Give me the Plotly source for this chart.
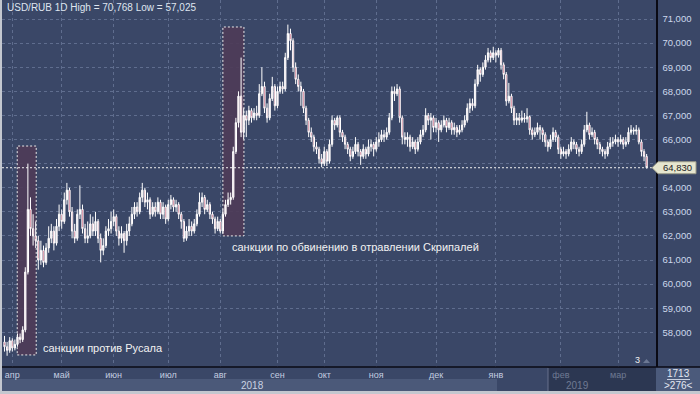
import plotly.graph_objects as go

# ---------------- data (USD/RUB daily candles) ----------------
opens = [57.60,57.40,57.25,57.65,57.35,57.50,57.80,57.70,58.10,60.50,
 63.10,62.30,62.00,61.80,61.00,61.40,60.90,61.50,61.90,62.20,
 61.70,62.40,62.90,62.60,63.50,63.90,63.00,62.20,61.90,62.90,
 63.10,62.30,61.90,62.00,62.50,62.20,62.60,61.90,61.40,61.60,
 62.20,62.30,62.60,62.80,62.20,61.90,62.10,61.80,62.20,62.50,
 62.90,63.20,63.00,63.60,63.90,63.40,63.50,62.90,63.20,63.00,
 63.40,62.90,63.20,62.70,63.30,63.50,63.20,63.30,62.90,62.60,
 61.90,62.20,62.40,62.20,62.50,62.90,63.40,63.60,63.10,63.30,
 62.90,62.70,62.30,62.60,62.20,62.90,63.30,63.50,63.60,65.50,
 66.70,67.80,66.30,67.00,66.80,67.20,66.90,67.10,67.00,67.90,
 68.20,67.30,66.90,67.70,68.20,67.40,68.00,68.20,68.10,69.40,
 70.40,70.10,69.00,68.50,68.20,68.00,67.30,66.80,66.30,66.10,
 65.70,65.60,65.20,65.00,65.50,65.10,65.80,66.80,66.60,66.90,
 66.30,66.10,65.80,65.60,65.30,65.50,65.80,65.50,65.30,65.60,
 65.40,65.70,65.80,65.60,65.90,66.00,66.20,66.10,66.30,66.90,
 68.00,67.90,68.10,66.90,66.10,66.00,66.10,65.70,65.90,65.60,
 65.90,66.20,66.40,67.00,66.80,66.90,66.50,66.70,66.40,66.60,
 66.80,66.50,66.70,66.40,66.50,66.30,66.40,66.60,66.80,67.30,
 67.50,67.40,68.30,68.90,68.70,69.00,69.30,69.60,69.40,69.60,
 69.50,69.70,69.10,68.70,67.60,67.80,67.30,66.80,66.90,66.80,
 66.90,66.85,66.95,66.40,66.20,66.30,66.50,66.40,66.20,65.90,
 65.70,66.00,66.30,66.10,65.60,65.40,65.50,65.40,65.60,65.90,
 65.80,65.60,65.50,65.80,66.40,66.60,66.20,66.30,66.00,65.80,
 65.60,65.50,65.40,65.70,65.85,65.90,66.00,65.90,66.00,65.80,
 65.90,66.30,66.40,66.35,66.40,65.90,65.50,65.30]

closes = [57.40,57.25,57.65,57.35,57.50,57.80,57.70,58.10,60.50,63.10,
 62.30,62.00,61.80,61.00,61.40,60.90,61.50,61.90,62.20,61.70,
 62.40,62.90,62.60,63.50,63.90,63.00,62.20,61.90,62.90,63.10,
 62.30,61.90,62.00,62.50,62.20,62.60,61.90,61.40,61.60,62.20,
 62.30,62.60,62.80,62.20,61.90,62.10,61.80,62.20,62.50,62.90,
 63.20,63.00,63.60,63.90,63.40,63.50,62.90,63.20,63.00,63.40,
 62.90,63.20,62.70,63.30,63.50,63.20,63.30,62.90,62.60,61.90,
 62.20,62.40,62.20,62.50,62.90,63.40,63.60,63.10,63.30,62.90,
 62.70,62.30,62.60,62.20,62.90,63.30,63.50,63.60,65.50,66.70,
 67.80,66.30,67.00,66.80,67.20,66.90,67.10,67.00,67.90,68.20,
 67.30,66.90,67.70,68.20,67.40,68.00,68.20,68.10,69.40,70.40,
 70.10,69.00,68.50,68.20,68.00,67.30,66.80,66.30,66.10,65.70,
 65.60,65.20,65.00,65.50,65.10,65.80,66.80,66.60,66.90,66.30,
 66.10,65.80,65.60,65.30,65.50,65.80,65.50,65.30,65.60,65.40,
 65.70,65.80,65.60,65.90,66.00,66.20,66.10,66.30,66.90,68.00,
 67.90,68.10,66.90,66.10,66.00,66.10,65.70,65.90,65.60,65.90,
 66.20,66.40,67.00,66.80,66.90,66.50,66.70,66.40,66.60,66.80,
 66.50,66.70,66.40,66.50,66.30,66.40,66.60,66.80,67.30,67.50,
 67.40,68.30,68.90,68.70,69.00,69.30,69.60,69.40,69.60,69.50,
 69.70,69.10,68.70,67.60,67.80,67.30,66.80,66.90,66.80,66.90,
 66.85,66.95,66.40,66.20,66.30,66.50,66.40,66.20,65.90,65.70,
 66.00,66.30,66.10,65.60,65.40,65.50,65.40,65.60,65.90,65.80,
 65.60,65.50,65.80,66.40,66.60,66.20,66.30,66.00,65.80,65.60,
 65.50,65.40,65.70,65.85,65.90,66.00,65.90,66.00,65.80,65.90,
 66.30,66.40,66.35,66.40,65.90,65.50,65.30,64.83]

highs = [57.85,57.60,57.80,57.75,57.70,57.95,57.95,58.25,60.70,65.00,
 63.60,62.90,62.60,62.00,61.80,61.60,61.70,62.40,62.50,62.40,
 62.70,63.30,63.10,63.80,64.20,64.00,63.20,62.50,63.10,64.10,
 63.30,62.50,62.60,62.90,62.80,63.00,62.70,62.10,61.90,62.40,
 62.70,63.00,63.10,62.90,62.40,62.40,62.20,62.50,62.80,63.20,
 63.40,63.40,63.80,64.20,64.00,63.80,63.60,63.40,63.40,63.60,
 63.50,63.40,63.30,63.50,63.70,63.60,63.50,63.40,63.00,62.70,
 62.40,62.70,62.60,62.70,63.10,63.80,63.80,63.70,63.50,63.40,
 63.00,62.80,62.80,62.70,63.10,63.50,63.80,63.80,65.70,66.90,
 68.00,69.40,67.30,67.20,67.40,67.30,67.30,67.40,68.30,69.00,
 68.40,67.50,67.90,68.60,68.30,68.20,68.40,68.40,69.60,70.77,
 70.60,70.20,69.20,68.70,68.40,68.10,67.40,66.90,66.50,66.20,
 65.90,65.70,65.40,65.70,65.60,66.00,67.00,66.90,67.00,67.00,
 66.40,66.20,65.90,65.70,65.70,66.10,65.90,65.60,65.80,65.70,
 66.00,66.00,65.90,66.10,66.30,66.40,66.40,66.50,67.10,68.20,
 68.20,68.30,68.20,67.00,66.30,66.30,66.20,66.10,66.00,66.10,
 66.40,66.60,67.30,67.10,67.10,67.00,66.90,66.80,66.80,67.00,
 66.90,66.90,66.80,66.70,66.60,66.60,66.80,67.00,67.50,67.70,
 67.70,68.50,69.10,69.00,69.20,69.50,69.80,69.70,69.85,69.70,
 69.80,69.80,69.20,68.80,68.35,67.90,67.40,67.10,67.10,67.20,
 67.10,67.30,67.00,66.50,66.50,66.70,66.60,66.50,66.30,66.00,
 66.20,66.50,66.40,66.20,65.70,65.70,65.60,65.80,66.10,66.00,
 65.90,65.70,66.00,66.60,67.15,66.70,66.50,66.40,66.10,65.90,
 65.70,65.60,65.90,66.10,66.10,66.20,66.10,66.20,66.10,66.10,
 66.50,66.60,66.50,66.60,66.50,66.00,65.60,65.40]

lows = [57.20,57.025,57.15,57.20,57.25,57.40,57.55,57.60,58.00,60.40,
 62.00,61.60,61.50,60.60,60.80,60.70,60.80,61.30,61.70,61.40,
 61.60,62.20,62.30,62.50,63.30,62.80,61.90,61.70,61.80,62.70,
 62.10,61.70,61.70,61.90,62.00,62.00,61.70,60.90,61.20,61.50,
 62.00,62.10,62.40,62.00,61.60,61.70,61.30,61.60,62.00,62.40,
 62.70,62.80,62.90,63.40,63.20,63.10,62.70,62.80,62.80,62.90,
 62.70,62.70,62.50,62.60,63.10,63.00,63.00,62.70,62.30,61.75,
 61.80,62.00,62.00,62.10,62.40,62.80,63.20,62.90,63.00,62.70,
 62.50,62.10,62.20,62.10,62.10,62.80,63.20,63.30,63.50,65.40,
 66.50,66.10,66.00,66.10,66.60,66.70,66.80,66.80,66.90,67.80,
 67.10,66.70,66.80,67.60,67.20,67.30,67.90,67.90,68.00,69.30,
 69.70,68.80,68.30,68.00,67.40,67.10,66.60,66.10,65.90,65.50,
 65.40,65.00,64.85,64.90,64.90,65.00,65.70,66.40,66.50,66.10,
 65.90,65.60,65.40,65.10,65.20,65.40,65.30,64.95,65.20,65.20,
 65.30,65.50,65.30,65.50,65.70,65.90,65.90,66.00,66.20,66.80,
 67.60,67.80,66.70,65.80,65.80,65.70,65.50,65.60,65.40,65.50,
 65.80,66.10,66.30,66.60,66.00,66.30,66.30,65.90,66.30,66.50,
 66.30,66.40,66.20,66.20,66.10,66.20,66.30,66.50,66.70,67.10,
 67.20,67.30,68.20,68.40,68.60,68.90,69.20,69.20,69.30,69.20,
 69.40,68.90,68.50,67.40,67.50,67.10,66.60,66.60,66.60,66.70,
 66.70,66.70,66.20,66.00,66.10,66.20,66.00,65.90,65.70,65.50,
 65.60,65.90,65.90,65.40,65.20,65.30,65.20,65.30,65.50,65.60,
 65.40,65.30,65.40,65.70,66.30,66.00,66.10,65.80,65.60,65.40,
 65.30,65.20,65.30,65.60,65.70,65.80,65.70,65.80,65.60,65.70,
 65.80,66.20,66.20,66.20,65.80,65.30,65.10,64.80]

candle_idx = list(range(len(closes)))

month_labels = ["апр", "май", "июн", "июл", "авг", "сен", "окт", "ноя", "дек", "янв", "фев", "мар"]
month_start_idx = [3, 22, 42, 63, 83, 105, 123, 143, 166, 189, 214, 236]
months_2019 = ["фев", "мар"]

price_ticks = [58, 59, 60, 61, 62, 63, 64, 65, 66, 67, 68, 69, 70, 71]
price_tick_labels = ["58,000", "59,000", "60,000", "61,000", "62,000", "63,000", "64,000", "",
                     "66,000", "67,000", "68,000", "69,000", "70,000", "71,000"]

title_text = "USD/RUB 1D High = 70,768 Low = 57,025"
last_price_label = "64,830"

event_texts = ["санкции против Русала", "санкции по обвинению в отравлении Скрипалей"]
event_idx_ranges = [(4.9, 12.2), (84.0, 92.1)]
event_price_ranges = [(57.06, 65.73), (62.0, 70.67)]

# ---------------- layout geometry ----------------
W, H = 700, 394
ML, MR, MT, MB = 2, 44, 0, 27
PW, PH = W - ML - MR, H - MT - MB


def fx(px):
    return (px - ML) / PW


def fy(py):
    return (H - MB - py) / PH


BG = "#3a4767"
GRID = "#5f6d8e"
FONT = "Liberation Sans"

fig = go.Figure()
fig.add_trace(go.Candlestick(
    x=candle_idx, open=opens, high=highs, low=lows, close=closes,
    increasing=dict(line=dict(color="#ffffff", width=1), fillcolor="#f3dfe5"),
    decreasing=dict(line=dict(color="#ffffff", width=1), fillcolor="#b31b42"),
    whiskerwidth=0, showlegend=False, hoverinfo="skip",
))

shapes = []
# background panels of the bottom axis strip
shapes.append(dict(type="rect", xref="paper", yref="paper", x0=fx(0), x1=fx(497), y0=fy(379), y1=fy(391),
                   fillcolor="#4b5979", line=dict(width=0), layer="below"))
shapes.append(dict(type="rect", xref="paper", yref="paper", x0=fx(548), x1=fx(656), y0=fy(367), y1=fy(391),
                   fillcolor="#2c3752", line=dict(width=0), layer="below"))
shapes.append(dict(type="line", xref="paper", yref="paper", x0=fx(548), x1=fx(548), y0=fy(368), y1=fy(391),
                   line=dict(color="#66718c", width=1), layer="below"))
shapes.append(dict(type="rect", xref="paper", yref="paper", x0=fx(656), x1=fx(700), y0=fy(367), y1=fy(391),
                   fillcolor="#4b5a7b", line=dict(width=0), layer="below"))
shapes.append(dict(type="line", xref="paper", yref="paper", x0=fx(667), x1=fx(690), y0=fy(379.5), y1=fy(379.5),
                   line=dict(color="#c8d0e0", width=1)))
# separator line under the chart
shapes.append(dict(type="line", xref="paper", yref="paper", x0=fx(0), x1=fx(700), y0=fy(367), y1=fy(367),
                   line=dict(color="#0a0a14", width=1.5)))
# window frame
shapes.append(dict(type="rect", xref="paper", yref="paper", x0=fx(0), x1=fx(2), y0=fy(0), y1=fy(394),
                   fillcolor="#c3c7cf", line=dict(width=0)))
shapes.append(dict(type="rect", xref="paper", yref="paper", x0=fx(0), x1=fx(700), y0=fy(391), y1=fy(394),
                   fillcolor="#c3c7cf", line=dict(width=0)))

# event rectangles
for (i0, i1), (p0, p1) in zip(event_idx_ranges, event_price_ranges):
    shapes.append(dict(type="rect", xref="x", yref="y", x0=i0, x1=i1, y0=p0, y1=p1,
                       fillcolor="rgba(78,60,88,0.92)", line=dict(color="#e8e8e8", width=1, dash="2px,2px"),
                       layer="between"))

# last price dotted line
last = closes[-1]
shapes.append(dict(type="line", xref="paper", yref="y", x0=0, x1=1, y0=last, y1=last,
                   line=dict(color="#f0f0f0", width=1, dash="2px,2px"), layer="above"))
# price marker tag
dp = 6 / (PH / (71.79 - 56.56))
shapes.append(dict(type="path", xref="paper", yref="y",
                   path=(f"M {fx(652)},{last} L {fx(658)},{last + dp} L {fx(696)},{last + dp} "
                         f"L {fx(696)},{last - dp} L {fx(658)},{last - dp} Z"),
                   fillcolor="#e6e6cf", line=dict(color="#9a9a88", width=1)))
# small triangle near bottom right of chart
shapes.append(dict(type="path", xref="paper", yref="paper",
                   path=f"M {fx(643)},{fy(363)} L {fx(650)},{fy(363)} L {fx(646.5)},{fy(359)} Z",
                   fillcolor="#6c7894", line=dict(width=0)))

annotations = []
annotations.append(dict(text=title_text, xref="paper", yref="paper", x=fx(5), y=fy(8),
                        xanchor="left", yanchor="middle", showarrow=False,
                        font=dict(family=FONT, size=10, color="#dfe5ef")))
for txt, pos in zip(event_texts, [(41, 348), (230, 247)]):
    annotations.append(dict(text=txt, xref="paper", yref="paper", x=fx(pos[0]), y=fy(pos[1]),
                            xanchor="left", yanchor="middle", showarrow=False,
                            font=dict(family=FONT, size=11, color="#f2f2f2")))
annotations.append(dict(text=last_price_label, xref="paper", yref="y", x=fx(677), y=last,
                        xanchor="center", yanchor="middle", showarrow=False,
                        font=dict(family=FONT, size=9.5, color="#222222")))
annotations.append(dict(text="2018", xref="paper", yref="paper", x=fx(252), y=fy(385),
                        xanchor="center", yanchor="middle", showarrow=False,
                        font=dict(family=FONT, size=10, color="#c9d2e2")))
annotations.append(dict(text="2019", xref="paper", yref="paper", x=fx(577), y=fy(385),
                        xanchor="center", yanchor="middle", showarrow=False,
                        font=dict(family=FONT, size=10, color="#6f7a93")))
annotations.append(dict(text="1713", xref="paper", yref="paper", x=fx(678), y=fy(373),
                        xanchor="center", yanchor="middle", showarrow=False,
                        font=dict(family=FONT, size=10, color="#e2e8f2")))
annotations.append(dict(text="&gt;276&lt;", xref="paper", yref="paper", x=fx(678), y=fy(385),
                        xanchor="center", yanchor="middle", showarrow=False,
                        font=dict(family=FONT, size=10, color="#e2e8f2")))
annotations.append(dict(text="3", xref="paper", yref="paper", x=fx(637.5), y=fy(359.5),
                        xanchor="center", yanchor="middle", showarrow=False,
                        font=dict(family=FONT, size=9, color="#f0f0f0")))

tick_text = [(f"<span style='color:#6f7a93'>{m}</span>" if m in months_2019 else m) for m in month_labels]

fig.update_layout(
    width=W, height=H,
    margin=dict(l=ML, r=MR, t=MT, b=MB, pad=0, autoexpand=False),
    paper_bgcolor=BG, plot_bgcolor=BG,
    shapes=shapes, annotations=annotations,
    showlegend=False,
    xaxis=dict(
        range=[-0.96, 250.6], tickmode="array", tickvals=month_start_idx, ticktext=tick_text,
        showgrid=True, gridcolor=GRID, griddash="dot", gridwidth=1,
        zeroline=False, showline=False, ticks="", ticklabelstandoff=1,
        tickfont=dict(family=FONT, size=9, color="#c3cde0"),
        rangeslider=dict(visible=False), automargin=False, fixedrange=True,
    ),
    yaxis=dict(
        side="right", range=[56.56, 71.79], tickmode="array", tickvals=price_ticks,
        ticktext=price_tick_labels,
        showgrid=True, gridcolor=GRID, griddash="dot", gridwidth=1,
        zeroline=False, showline=True, linecolor="#0a0a14", linewidth=1.5,
        ticks="", ticklabelstandoff=3,
        tickfont=dict(family=FONT, size=9.5, color="#cdd8ec"),
        automargin=False, fixedrange=True,
    ),
)

fig.write_html(
    "out.html",
    config={"displayModeBar": False, "staticPlot": True},
    post_script="document.body.style.margin='0';document.body.style.padding='0';"
                "document.documentElement.style.overflow='hidden';",
)
